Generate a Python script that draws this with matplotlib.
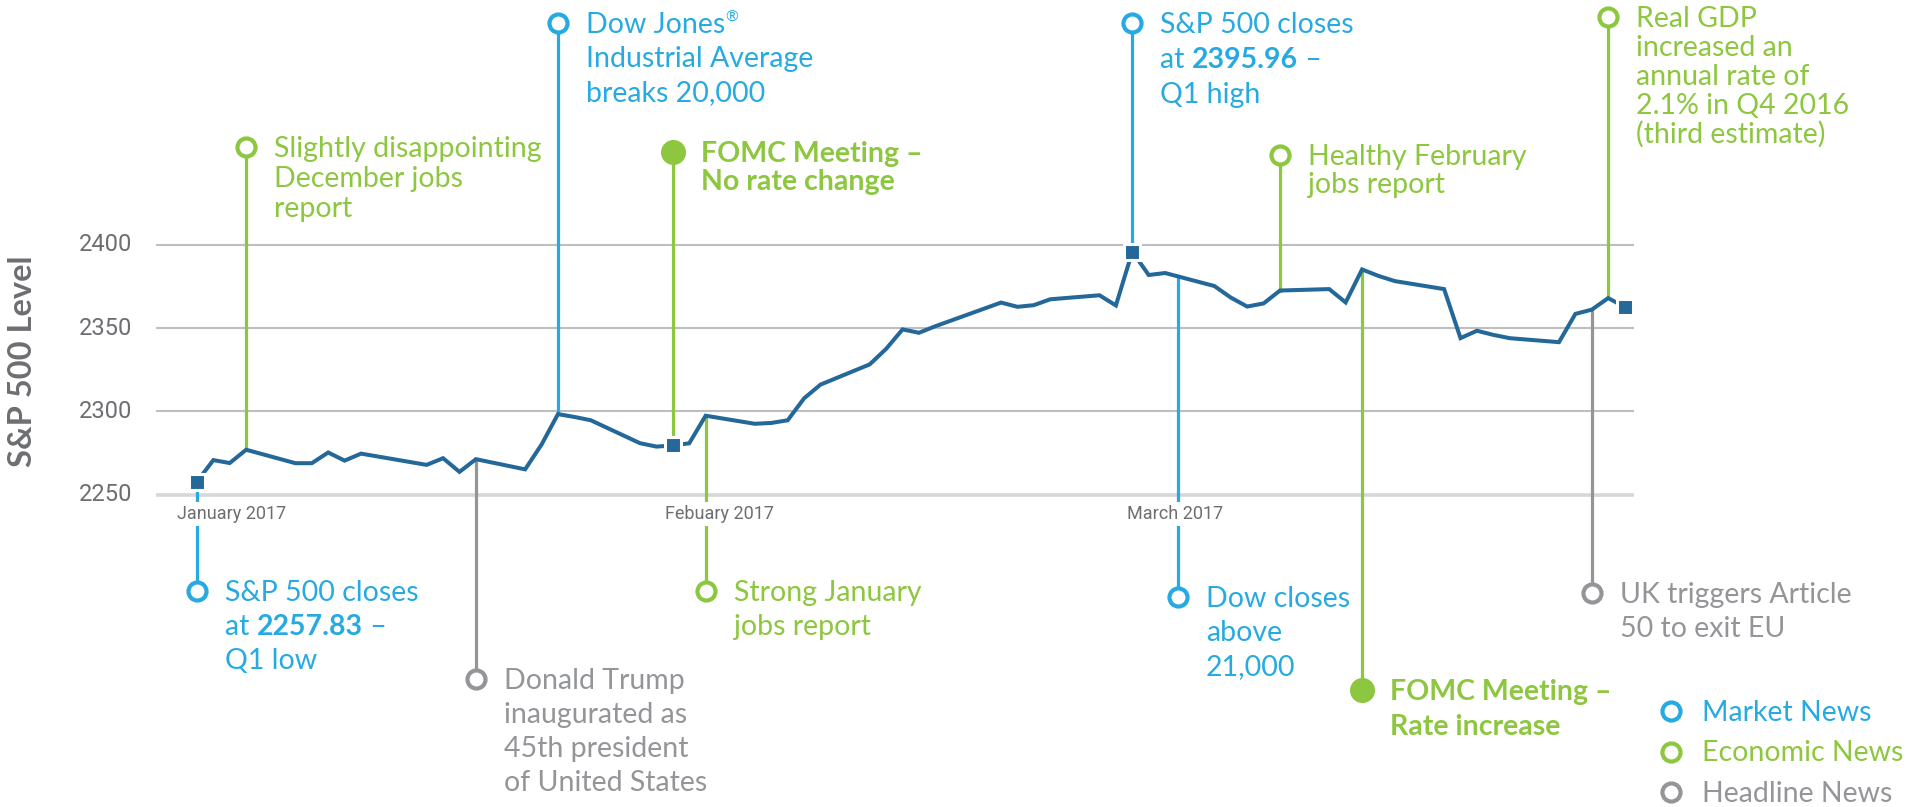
import matplotlib
matplotlib.use("Agg")
import matplotlib.pyplot as plt
import matplotlib.dates as mdates
import numpy as np
import pandas as pd

# S&P 500 daily closes, Q1 2017
dates = pd.to_datetime([
    "2017-01-03", "2017-01-04", "2017-01-05", "2017-01-06", "2017-01-09", "2017-01-10",
    "2017-01-11", "2017-01-12", "2017-01-13", "2017-01-17", "2017-01-18", "2017-01-19",
    "2017-01-20", "2017-01-23", "2017-01-24", "2017-01-25", "2017-01-26", "2017-01-27",
    "2017-01-30", "2017-01-31", "2017-02-01", "2017-02-02", "2017-02-03", "2017-02-06",
    "2017-02-07", "2017-02-08", "2017-02-09", "2017-02-10", "2017-02-13", "2017-02-14",
    "2017-02-15", "2017-02-16", "2017-02-17", "2017-02-21", "2017-02-22", "2017-02-23",
    "2017-02-24", "2017-02-27", "2017-02-28", "2017-03-01", "2017-03-02", "2017-03-03",
    "2017-03-06", "2017-03-07", "2017-03-08", "2017-03-09", "2017-03-10", "2017-03-13",
    "2017-03-14", "2017-03-15", "2017-03-16", "2017-03-17", "2017-03-20", "2017-03-21",
    "2017-03-22", "2017-03-23", "2017-03-24", "2017-03-27", "2017-03-28", "2017-03-29",
    "2017-03-30", "2017-03-31",
])
closes = [
    2257.83, 2270.75, 2269.00, 2276.98, 2268.90, 2268.90,
    2275.32, 2270.44, 2274.64, 2267.89, 2271.89, 2263.69,
    2271.31, 2265.20, 2280.07, 2298.37, 2296.68, 2294.69,
    2280.90, 2278.87, 2279.55, 2280.85, 2297.42, 2292.56,
    2293.08, 2294.67, 2307.87, 2316.10, 2328.25, 2337.58,
    2349.25, 2347.22, 2351.16, 2365.38, 2362.82, 2363.81,
    2367.34, 2369.75, 2363.64, 2395.96, 2381.92, 2383.12,
    2375.31, 2368.39, 2362.98, 2364.87, 2372.60, 2373.47,
    2365.45, 2385.26, 2381.38, 2378.25, 2373.47, 2344.02,
    2348.45, 2345.96, 2343.98, 2341.59, 2358.57, 2361.13,
    2368.06, 2362.72,
]

y_ticks = [2250, 2300, 2350, 2400]
month_labels = ["January 2017", "Febuary 2017", "March 2017"]
month_label_dates = pd.to_datetime(["2017-01-01T19:00", "2017-01-31T12:00", "2017-02-28T16:00"],
                                   format="ISO8601")
highlight_dates = pd.to_datetime(["2017-01-03", "2017-02-01", "2017-03-01", "2017-03-31"])

# events: date, kind, text (|...| = bold part, ^...^ = superscript)
event_dates = pd.to_datetime([
    "2017-01-03", "2017-01-06", "2017-01-20", "2017-01-25", "2017-02-01", "2017-02-03",
    "2017-03-01", "2017-03-03T19:00", "2017-03-10", "2017-03-15", "2017-03-30", "2017-03-29",
], format="ISO8601")
event_kinds = ["market", "economic", "headline", "market", "economic", "economic",
               "market", "market", "economic", "economic", "economic", "headline"]
event_texts = [
    "S&P 500 closes\nat |2257.83| –\nQ1 low",
    "Slightly disappointing\nDecember jobs\nreport",
    "Donald Trump\ninaugurated as\n45th president\nof United States",
    "Dow Jones^®^\nIndustrial Average\nbreaks 20,000",
    "|FOMC Meeting –|\n|No rate change|",
    "Strong January\njobs report",
    "S&P 500 closes\nat |2395.96| –\nQ1 high",
    "Dow closes\nabove\n21,000",
    "Healthy February\njobs report",
    "|FOMC Meeting –|\n|Rate increase|",
    "Real GDP\nincreased an\nannual rate of\n2.1% in Q4 2016\n(third estimate)",
    "UK triggers Article\n50 to exit EU",
]
legend_kinds = ["market", "economic", "headline"]
legend_labels = ["Market News", "Economic News", "Headline News"]

# layout (pixels from top of the 1920x807 figure)
circle_px = [591, 147, 679, 23, 152, 591, 23, 597, 155, 690, 17, 593]
line_gap_px = [34, 30, 34, 34, 28, 34, 35, 34, 28, 35, 29, 34]
filled = [False, False, False, False, True, False, False, False, False, True, False, False]

COLORS = {"market": "#27aae1", "economic": "#8dc63f", "headline": "#939598"}
LINE_COLOR = "#24689a"
TEXT_FONT = ["Lato", "DejaVu Sans"]
FS = 20.5

W, H = 1920, 807
Y_TOP, Y_BOT = 2547.1, 2062.4
t0 = dates[0]
X_LEFT = mdates.date2num(t0 - pd.Timedelta(days=12.0))
X_RIGHT = mdates.date2num(t0 + pd.Timedelta(days=105.0))


def py(px):
    return Y_TOP - px / H * (Y_TOP - Y_BOT)


fig = plt.figure(figsize=(W / 100, H / 100), dpi=100)
ax = fig.add_axes([0, 0, 1, 1])
ax.set_xlim(X_LEFT, X_RIGHT)
ax.set_ylim(Y_BOT, Y_TOP)
ax.axis("off")

xnum = mdates.date2num(dates)
grid_x0 = mdates.date2num(t0 - pd.Timedelta(days=2.5))
grid_x1 = mdates.date2num(t0 + pd.Timedelta(days=87.6))

for v in y_ticks:
    if v == y_ticks[0]:
        ax.hlines(v, grid_x0, grid_x1, color="#d6d7d8", lw=2.6, zorder=1)
    else:
        ax.hlines(v, grid_x0, grid_x1, color="#bcbec0", lw=1.5, zorder=1)
    ax.text(mdates.date2num(t0 - pd.Timedelta(days=3.95)), v, str(v), ha="right", va="center",
            fontsize=17, color="#6d6e71", family=["Roboto", "DejaVu Sans"])

for lab, d in zip(month_labels, month_label_dates):
    ax.text(mdates.date2num(d), py(514), lab, ha="left", va="center", fontsize=13,
            color="#6d6e71", family=["Roboto", "DejaVu Sans"],
            zorder=4, bbox=dict(boxstyle="square,pad=0.15", fc="white", ec="none"))

ax.plot(xnum, closes, color=LINE_COLOR, lw=2.9, zorder=5, solid_joinstyle="miter")
hv = np.interp(mdates.date2num(highlight_dates), xnum, closes)
ax.plot(mdates.date2num(highlight_dates), hv, ls="none", marker="s", ms=11,
        mfc=LINE_COLOR, mec="white", mew=2.2, zorder=6)


def split_parts(line):
    # returns list of (text, style) with style in normal / bold / sup
    out = []
    for j, seg in enumerate(line.split("|")):
        style = "bold" if j % 2 == 1 else "normal"
        for k, sub in enumerate(seg.split("^")):
            if sub:
                out.append((sub, "sup" if k % 2 == 1 else style))
    return out


def draw_text(x, y, text, color, gap):
    for i, line in enumerate(text.split("\n")):
        prev = None
        for part, style in split_parts(line):
            weight = "bold" if style == "bold" else "normal"
            if prev is None:
                prev = ax.annotate(part, xy=(x, y), xytext=(28, -10 - i * gap),
                                   textcoords="offset pixels", ha="left", va="baseline",
                                   fontsize=FS, color=color, fontweight=weight,
                                   family=TEXT_FONT, zorder=7)
            elif style == "sup":
                prev = ax.annotate(part, xy=(1, 0.5), xycoords=prev, ha="left", va="bottom",
                                   fontsize=FS * 0.55, color=color, family=TEXT_FONT, zorder=7)
            else:
                prev = ax.annotate(part, xy=(1, 0), xycoords=prev, ha="left", va="bottom",
                                   fontsize=FS, color=color, fontweight=weight,
                                   family=TEXT_FONT, zorder=7)


for d, kind, text, cpx, gap, fill in zip(event_dates, event_kinds, event_texts,
                                          circle_px, line_gap_px, filled):
    x = mdates.date2num(d)
    col = COLORS[kind]
    yc = py(cpx)
    yv = np.interp(x, xnum, closes)
    ax.plot([x, x], [yc, yv], color=col, lw=2.3, zorder=2)
    ax.plot(x, yc, marker="o", ms=13 if not fill else 15, mfc=col if fill else "white",
            mec=col, mew=3.0, zorder=3)
    draw_text(x, yc, text, col, gap)

for i, (kind, lab) in enumerate(zip(legend_kinds, legend_labels)):
    ypos = 1 - (711 + i * 40.5) / H
    ax.plot(1671 / W, ypos, transform=ax.transAxes, marker="o", ms=13, mfc="white",
            mec=COLORS[kind], mew=3.0, clip_on=False)
    ax.text(1702 / W, ypos - 0.002, lab, transform=ax.transAxes, ha="left", va="center",
            fontsize=FS, color=COLORS[kind], family=TEXT_FONT)

fig.text(23 / W, 1 - 361 / H, "S&P 500 Level", rotation=90, ha="center", va="center",
         fontsize=23.5, fontweight="bold", color="#6d6e71", family=TEXT_FONT)

fig.savefig("out.png", dpi=100)
